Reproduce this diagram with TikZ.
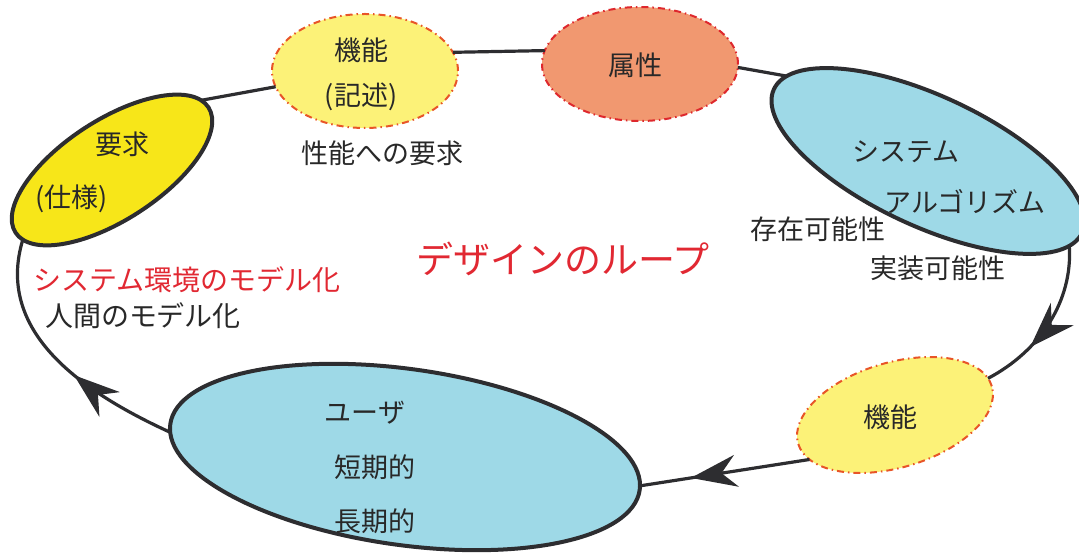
\documentclass[tikz,border=0pt]{standalone}
\usepackage{fontspec}
\setmainfont{Noto Sans CJK JP}
\usetikzlibrary{shapes.geometric,arrows.meta,decorations.markings}
\definecolor{linec}{RGB}{45,45,48}
\definecolor{txtc}{RGB}{40,40,40}
\definecolor{redtxt}{RGB}{225,40,50}
\definecolor{yelA}{RGB}{247,230,25}
\definecolor{yelB}{RGB}{252,242,120}
\definecolor{salmon}{RGB}{241,152,112}
\definecolor{lblue}{RGB}{158,217,231}
\definecolor{orred}{RGB}{232,85,40}
\definecolor{dred}{RGB}{222,40,45}
\begin{document}
\begin{tikzpicture}[x=1pt,y=1pt,
  ell/.style={ellipse, inner sep=0pt, outer sep=0pt},
  solidell/.style={ell, draw=linec, line width=4pt},
  dashell/.style={ell, draw=#1, line width=2pt, dash pattern=on 7pt off 4pt on 1.5pt off 4pt},
  lab/.style={font=\fontsize{27}{30}\selectfont, text=txtc, inner sep=0pt},
  redlab/.style={font=\fontsize{28}{30}\selectfont, text=redtxt, inner sep=0pt},
  conn/.style={draw=linec, line width=3.2pt},
  midarrow/.style={postaction={decorate}, decoration={markings, mark=at position #1 with {\arrow{Stealth[length=46pt,width=32pt,inset=15pt]}}}}
]
\path[use as bounding box] (0,0) rectangle (1079,556);

% ellipses
\node[solidell, fill=yelA, minimum width=230pt, minimum height=100pt, rotate=33] (A) at (112,386) {};
\node[dashell=orred, fill=yelB, minimum width=186pt, minimum height=114pt] (B) at (365,485) {};
\node[dashell=dred, fill=salmon, minimum width=196pt, minimum height=114pt] (C) at (640,492) {};
\node[solidell, fill=lblue, minimum width=340pt, minimum height=130pt, rotate=-25] (D) at (928,395) {};
\node[dashell=orred, fill=yelB, minimum width=202pt, minimum height=105pt, rotate=16.5] (E) at (895,141) {};
\node[solidell, fill=lblue, minimum width=474pt, minimum height=176pt, rotate=-8] (F) at (405,99) {};

% connectors
\draw[conn] (A.5) -- (B.190);
\draw[conn] (B.12) -- (C.172);
\draw[conn] (C.358) -- (D.174);
\draw[conn, midarrow=0.68] (D.354) .. controls (1073,255) and (1040,205) .. (E.5);
\draw[conn, midarrow=0.7] (E.191) -- (F.1);
\draw[conn, midarrow=0.42] (F.182) .. controls (80,165) and (-5,225) .. (A.185);

% labels
\node[lab] (tA1) at (122,412) {要求};
\node[lab] (tA2) at (72,357) {(仕様)};
\node[lab] (tB1) at (361,506) {機能};
\node[lab] (tB2) at (361,459) {(記述)};
\node[lab] (tB3) at (382,403) {性能への要求};
\node[lab] (tC) at (635,491) {属性};
\node[lab] (tD1) at (906,404) {システム};
\node[lab] (tD2) at (965,354) {アルゴリズム};
\node[lab] (tD3) at (818,327) {存在可能性};
\node[lab] (tD4) at (938,288) {実装可能性};
\node[lab] (tE) at (890,139) {機能};
\node[lab] (tF1) at (365,143) {ユーザ};
\node[lab] (tF2) at (375,89) {短期的};
\node[lab] (tF3) at (375,35) {長期的};
\node[redlab] (tL1) at (187,276) {システム環境のモデル化};
\node[lab, font=\fontsize{28}{30}\selectfont] (tL2) at (143,240) {人間のモデル化};
\node[redlab, font=\fontsize{37}{40}\selectfont] (title) at (563,297) {デザインのループ};
\end{tikzpicture}
\end{document}
